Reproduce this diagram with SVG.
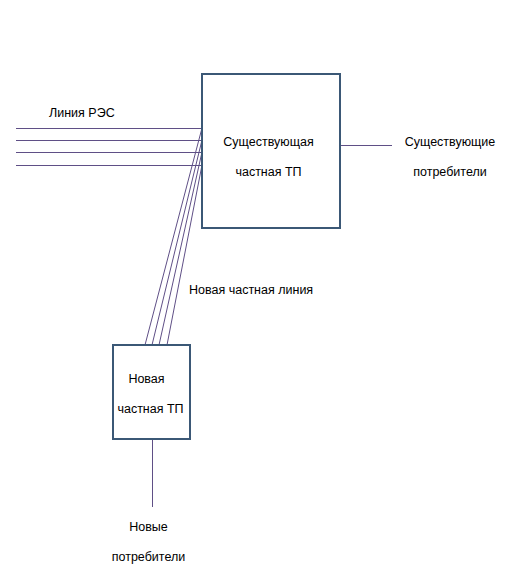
<svg xmlns="http://www.w3.org/2000/svg" width="513" height="577" viewBox="0 0 513 577">
<style>
.box{fill:#fff;stroke:#3b5876;stroke-width:2}
.ln{stroke:#5f4f86;stroke-width:1;fill:none}
text{font-family:"Liberation Sans",Arial,sans-serif;font-size:12.5px;fill:#000}
</style>
<rect width="513" height="577" fill="#fff"/>
<g id="connectors">
<line class="ln" x1="16" y1="128.5" x2="202" y2="128.5"/>
<line class="ln" x1="16" y1="140.5" x2="202" y2="140.5"/>
<line class="ln" x1="16" y1="152.5" x2="202" y2="152.5"/>
<line class="ln" x1="16" y1="165.5" x2="202" y2="165.5"/>
<line class="ln" x1="145" y1="345" x2="202" y2="128"/>
<line class="ln" x1="152" y1="345" x2="202" y2="140"/>
<line class="ln" x1="159" y1="345" x2="202" y2="152"/>
<line class="ln" x1="167" y1="345" x2="202" y2="165"/>
<line class="ln" x1="340" y1="145.5" x2="392" y2="145.5"/>
<line class="ln" x1="152.5" y1="439" x2="152.5" y2="507"/>
</g>
<g id="label-line-res"><text x="49" y="117">Линия РЭС</text></g>
<g id="existing-tp">
<rect class="box" x="202" y="74" width="138" height="154"/>
<text x="268.5" y="145.5" text-anchor="middle">Существующая</text>
<text x="268.5" y="175.5" text-anchor="middle">частная ТП</text>
</g>
<g id="existing-consumers">
<text x="450" y="145.5" text-anchor="middle">Существующие</text>
<text x="450" y="175.5" text-anchor="middle">потребители</text>
</g>
<g id="label-new-line"><text x="189" y="293.5">Новая частная линия</text></g>
<g id="new-tp">
<rect class="box" x="113" y="345" width="77" height="94"/>
<text x="146.5" y="382.5" text-anchor="middle">Новая</text>
<text x="150.5" y="412.5" text-anchor="middle">частная ТП</text>
</g>
<g id="new-consumers">
<text x="148.5" y="530.5" text-anchor="middle">Новые</text>
<text x="148.5" y="560.5" text-anchor="middle">потребители</text>
</g>
</svg>
